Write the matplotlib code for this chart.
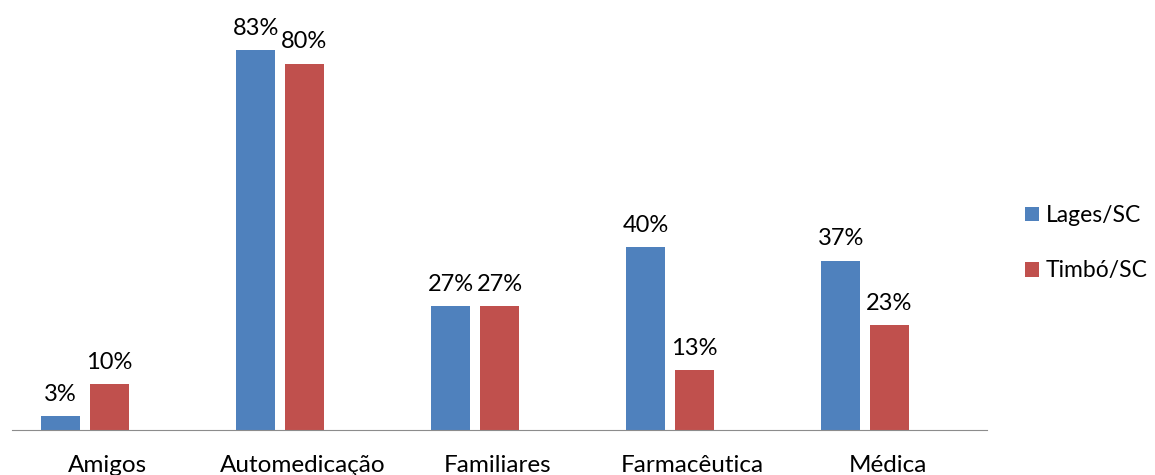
import matplotlib
matplotlib.use("Agg")
import matplotlib.pyplot as plt
import numpy as np

categories = ["Amigos", "Automedicação", "Familiares", "Farmacêutica", "Médica"]
lages = [3, 83, 27, 40, 37]
timbo = [10, 80, 27, 13, 23]
series_names = ["Lages/SC", "Timbó/SC"]
colors = ["#4F81BD", "#C0504D"]

plt.rcParams['font.family'] = ['Lato', 'DejaVu Sans']

fig = plt.figure(figsize=(11.55, 4.75), dpi=100)
ax = fig.add_axes([12 / 1155, 1 - 430 / 475, 975 / 1155, 430 / 475])

x = np.arange(len(categories))
w = 0.2
b1 = ax.bar(x - 0.25, lages, w, color=colors[0], label=series_names[0])
b2 = ax.bar(x, timbo, w, color=colors[1], label=series_names[1])

for bars, vals in ((b1, lages), (b2, timbo)):
    for rect, v in zip(bars, vals):
        ax.annotate(f"{v}%", (rect.get_x() + rect.get_width() / 2, v),
                    xytext=(0, 8), textcoords="offset points",
                    ha="center", va="bottom", fontsize=17)

ax.set_xlim(-0.5, 4.5)
ax.set_ylim(0, 430 / 4.58)
ax.set_xticks(x - 0.01)
ax.set_xticklabels(categories, fontsize=17.5)
ax.tick_params(axis="x", length=0, pad=18)
ax.set_yticks([])
for s in ("top", "right", "left"):
    ax.spines[s].set_visible(False)
ax.spines["bottom"].set_color("#8c8c8c")

fig.legend(loc="center left", bbox_to_anchor=(1018 / 1155, 0.488), frameon=False,
           fontsize=16.5, handlelength=0.6, handleheight=0.6, handletextpad=0.3,
           labelspacing=1.5, borderpad=0.3, borderaxespad=0)

fig.savefig("out.png", dpi=100)
